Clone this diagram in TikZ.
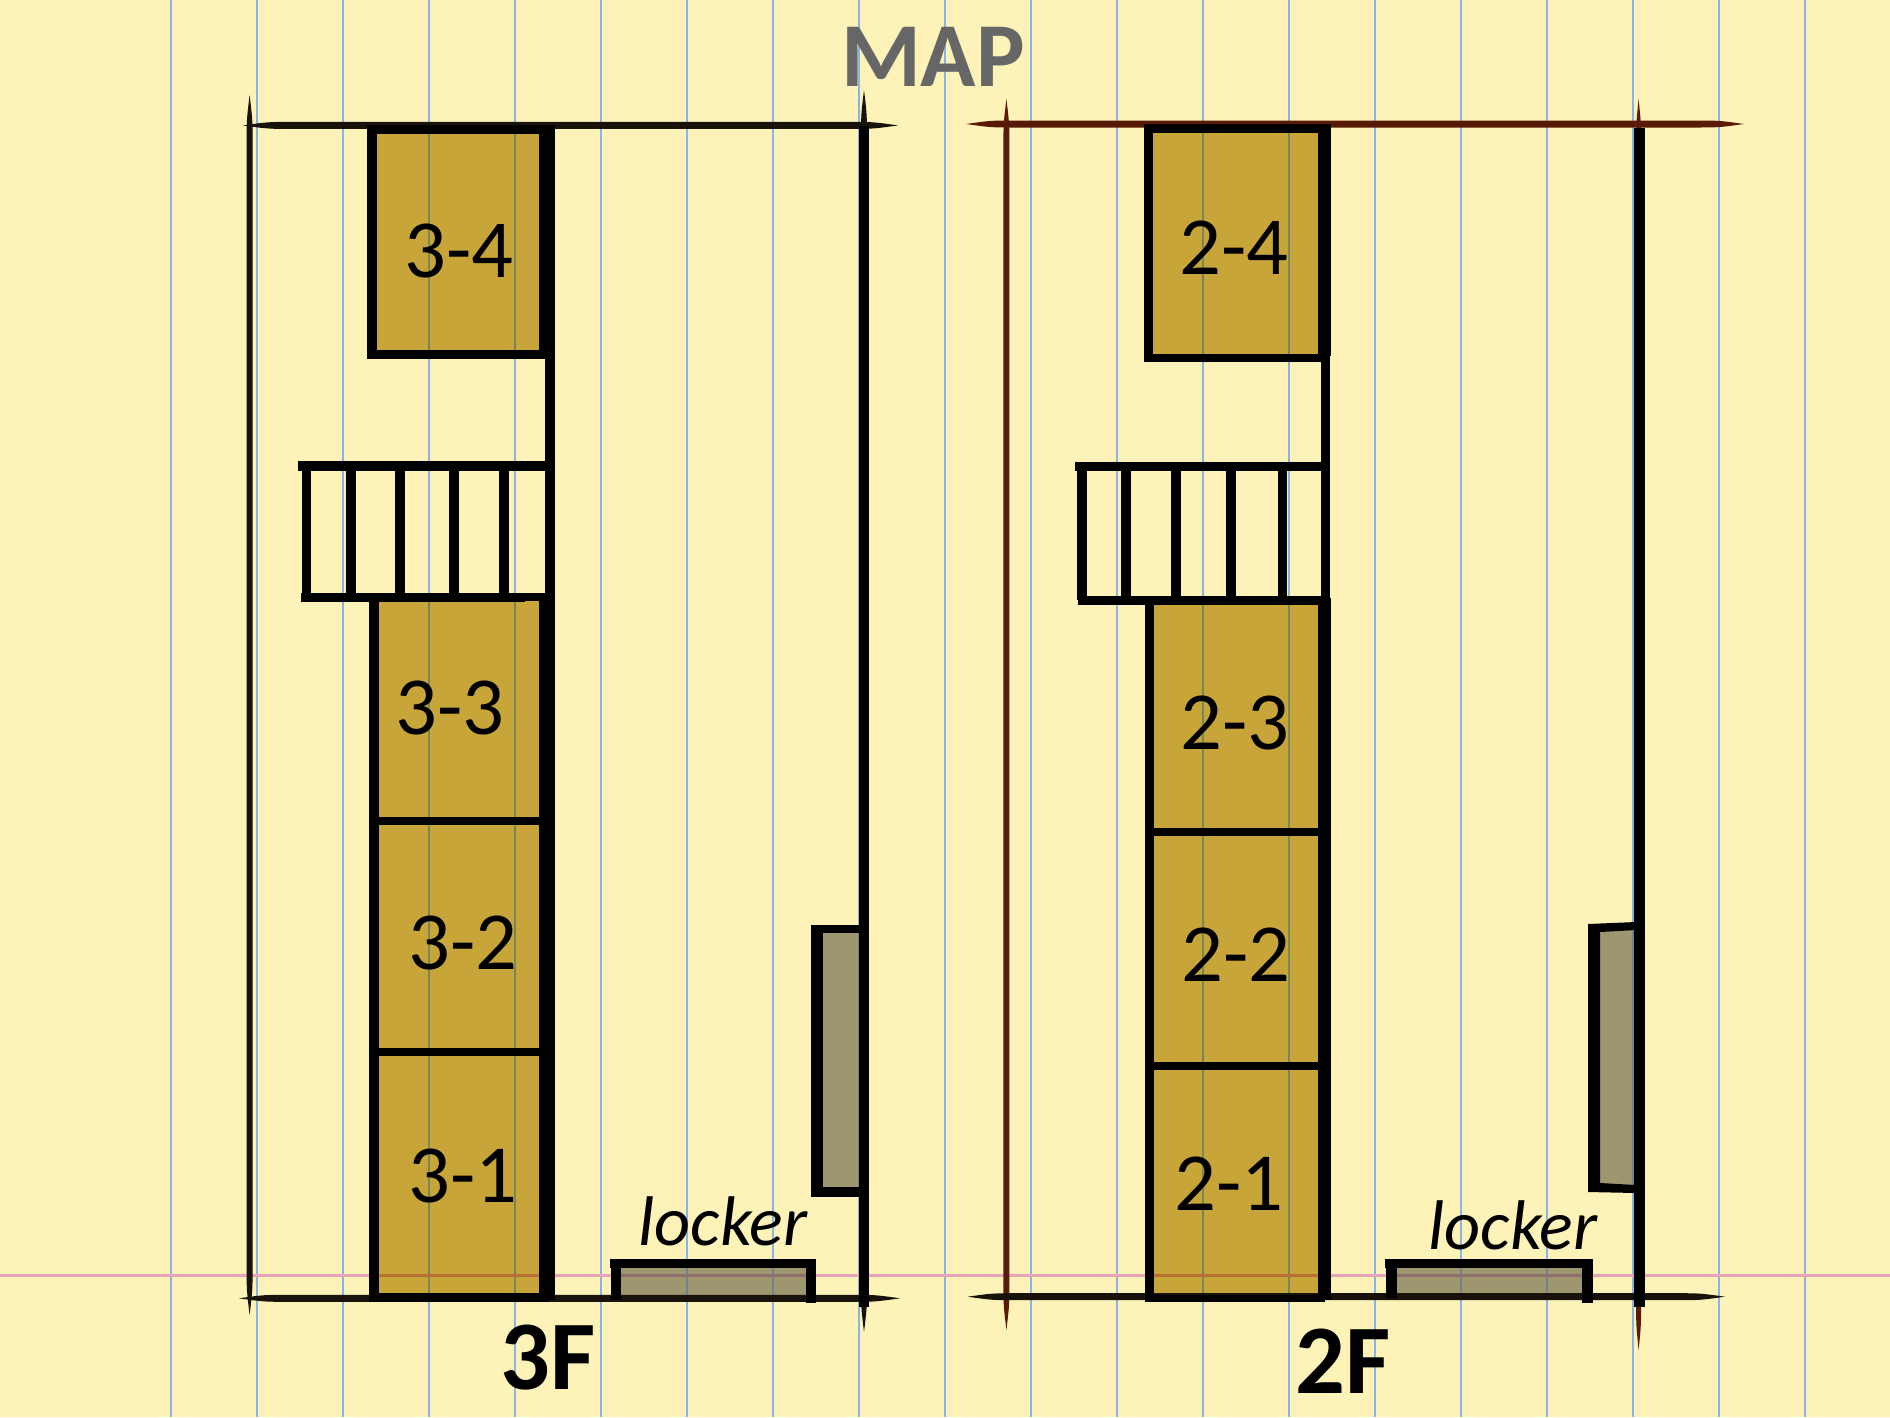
\documentclass[tikz,border=0pt]{standalone}
\usepackage{fontspec}
\setmainfont{Carlito}
\definecolor{paper}{HTML}{FDF3B8}
\definecolor{roomfill}{HTML}{C7A538}
\definecolor{lockfill}{HTML}{9D966F}
\definecolor{rule}{HTML}{8AB4E8}
\definecolor{margin}{HTML}{E8A4B8}
\definecolor{ruleroom}{HTML}{74885A}
\definecolor{marginroom}{HTML}{B87034}
\definecolor{rulelock}{HTML}{6E8290}
\definecolor{marginlock}{HTML}{8F6F70}
\definecolor{ink}{HTML}{17120A}
\definecolor{redink}{HTML}{5A1A08}
\definecolor{titleink}{HTML}{666666}
\tikzset{
  wallink/.style={fill=black},
  gridline/.style={line width=1.2pt},
  marginline/.style={line width=1.2pt},
  roomlabel/.style={font=\fontsize{47}{47}\selectfont,inner sep=0pt},
  lockerlabel/.style={font=\itshape\fontsize{40}{40}\selectfont,inner sep=0pt},
  floorlabel/.style={font=\bfseries\fontsize{56}{56}\selectfont,inner sep=0pt},
  maplabel/.style={font=\bfseries\fontsize{52}{52}\selectfont,text=titleink,inner sep=0pt},
}
% ruled paper lines: colour of verticals, colour of the horizontal
\newcommand\ruledlines[2]{%
  \foreach \k in {0,...,19}{\draw[gridline,draw=#1] ({170.7+86*\k},0) -- ({170.7+86*\k},1417);}
  \draw[marginline,draw=#2] (0,1275.5) -- (1890,1275.5);}
% horizontal tapered stroke: y, x1, x2, half width, colour
\newcommand\taperh[5]{\fill[#5] (#2,#1) .. controls ({#2+25},{#1-#4}) .. ({#2+50},{#1-#4}) -- ({#3-50},{#1-#4}) .. controls ({#3-25},{#1-#4}) .. (#3,#1) .. controls ({#3-25},{#1+#4}) .. ({#3-50},{#1+#4}) -- ({#2+50},{#1+#4}) .. controls ({#2+25},{#1+#4}) .. cycle;}
% vertical tapered stroke: x, y1, y2, half width, colour
\newcommand\taperv[5]{\fill[#5] (#1,#2) .. controls ({#1-#4},{#2+25}) .. ({#1-#4},{#2+50}) -- ({#1-#4},{#3-50}) .. controls ({#1-#4},{#3-25}) .. (#1,#3) .. controls ({#1+#4},{#3-25}) .. ({#1+#4},{#3-50}) -- ({#1+#4},{#2+50}) .. controls ({#1+#4},{#2+25}) .. cycle;}
\newcommand\wallbox[4]{\fill[wallink] (#1,#2) rectangle (#3,#4);}
\begin{document}
\begin{tikzpicture}[x=0.02cm,y=-0.02cm]
\useasboundingbox (0,0) rectangle (1890,1417);
\fill[paper] (0,0) rectangle (1890,1417);
\ruledlines{rule}{margin}

% room fills
\fill[roomfill] (372,128) rectangle (545,355);
\fill[roomfill] (372,598) rectangle (545,1298);
\fill[roomfill] (1148,128) rectangle (1322,358);
\fill[roomfill] (1148,600) rectangle (1322,1298);
\begin{scope}
\clip (372,128) rectangle (545,355) (372,598) rectangle (545,1298) (1148,128) rectangle (1322,358) (1148,600) rectangle (1322,1298);
\ruledlines{ruleroom}{marginroom}
\end{scope}
% locker fills
\fill[lockfill] (615,1262) rectangle (812,1298);
\fill[lockfill] (818,928) rectangle (860,1192);
\fill[lockfill] (1390,1262) rectangle (1588,1297);
\fill[lockfill] (1595,926) rectangle (1636,1188);
\begin{scope}
\clip (615,1262) rectangle (812,1298) (818,928) rectangle (860,1192) (1390,1262) rectangle (1588,1297) (1595,926) rectangle (1636,1188);
\ruledlines{rulelock}{marginlock}
\end{scope}

% 3F frame
\taperv{249.6}{95}{1315}{3}{ink}
\taperh{125.4}{243}{898}{3.5}{ink}
\taperh{1298.3}{239}{900}{3.5}{ink}
\taperv{864}{90}{1332}{3}{ink}
\wallbox{859}{126}{869}{1307}

% 3F rooms
\wallbox{367}{124.6}{555}{133.6}
\wallbox{367}{124.6}{377}{359}
\wallbox{539}{124.6}{555}{352}
\wallbox{367}{350}{545}{359}
\wallbox{545}{350}{555}{600}
\wallbox{539}{596}{555}{1300}
\wallbox{369}{596}{379}{1301.7}
\wallbox{369}{816.5}{545}{824.5}
\wallbox{369}{1048}{545}{1056}
\wallbox{369}{1293}{549}{1301.7}

% 3F stairs
\wallbox{298}{461.4}{545}{471.4}
\wallbox{302}{465}{311}{598}
\wallbox{345.6}{465}{355.5}{598}
\wallbox{395}{465}{405}{598}
\wallbox{449}{465}{459}{598}
\wallbox{499}{465}{508.6}{598}
\wallbox{300.5}{592.5}{525}{601.8}
\wallbox{369}{592.5}{550}{601}

% 3F lockers
\wallbox{609.5}{1259.3}{816}{1268.3}
\wallbox{610.5}{1259.3}{620.6}{1300}
\wallbox{806}{1259.3}{816}{1303}
\wallbox{811}{924.6}{860}{932.6}
\wallbox{811}{924.6}{823}{1196.7}
\wallbox{811}{1187.3}{860}{1196.7}

% 2F frame
\taperv{1006.4}{99}{1330}{3}{redink}
\taperh{124}{966}{1744}{3.5}{redink}
\taperh{1296.7}{967.6}{1725}{3.5}{ink}
\taperv{1638.6}{99}{1350}{2.5}{redink}
\wallbox{1634}{128}{1644.5}{1307}

% 2F rooms
\wallbox{1144}{124}{1330.6}{132.6}
\wallbox{1144}{124}{1153}{361.6}
\wallbox{1317.5}{124}{1330.6}{356}
\wallbox{1144}{354}{1329}{361.6}
\wallbox{1321}{354}{1329.5}{600}
\wallbox{1317.5}{598}{1330.6}{1300}
\wallbox{1145}{598}{1154}{1301.7}
\wallbox{1145}{827.5}{1322}{835.5}
\wallbox{1145}{1061.5}{1322}{1069.5}
\wallbox{1145}{1295}{1325}{1301.7}

% 2F stairs
\wallbox{1075}{461.6}{1323}{471}
\wallbox{1077}{465}{1087}{600}
\wallbox{1121}{465}{1131}{600}
\wallbox{1171}{465}{1181}{600}
\wallbox{1226}{465}{1235.6}{600}
\wallbox{1278}{465}{1287}{600}
\wallbox{1078}{595.5}{1325}{605}

% 2F lockers
\wallbox{1384.5}{1259}{1592.7}{1268}
\wallbox{1386}{1259}{1396.7}{1298}
\wallbox{1582.4}{1259}{1592.7}{1303}
\fill[wallink] (1588,924) -- (1636,922) -- (1636,930) -- (1600,932) -- (1600,1183) -- (1636,1185) -- (1636,1193) -- (1588,1192) -- cycle;

% labels
\node[maplabel] (maptitle) at (933,57) {MAP};
\node[roomlabel] (r34) at (459,251) {3-4};
\node[roomlabel] (r33) at (450,708) {3-3};
\node[roomlabel] (r32) at (463,943) {3-2};
\node[roomlabel] (r31) at (463,1176) {3-1};
\node[lockerlabel] (lock3) at (723,1221) {locker};
\node[floorlabel] (f3) at (548,1358) {3F};
\node[roomlabel] (r24) at (1234,248) {2-4};
\node[roomlabel] (r23) at (1235,723) {2-3};
\node[roomlabel] (r22) at (1236,955) {2-2};
\node[roomlabel] (r21) at (1229,1184) {2-1};
\node[lockerlabel] (lock2) at (1513,1225) {locker};
\node[floorlabel] (f2) at (1343,1361) {2F};
\end{tikzpicture}
\end{document}
